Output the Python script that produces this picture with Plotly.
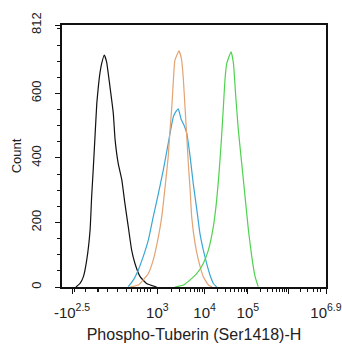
import plotly.graph_objects as go

# Display-channel scale (0..1024) as in flow cytometry software
BLACK_X = [54, 70, 83, 96, 109, 115, 121, 128, 135, 141, 147, 154, 164, 173, 186, 199, 206, 218, 232, 244, 257, 270, 283, 303, 328, 367]
BLACK_Y = [0, 11, 32, 84, 177, 280, 363, 466, 569, 621, 662, 693, 719, 698, 621, 538, 456, 383, 332, 259, 187, 115, 73, 32, 11, 0]

BLUE_X = [257, 277, 296, 315, 335, 354, 374, 393, 412, 432, 443, 451, 462, 473, 484, 497, 509, 523, 535, 548, 561, 574, 587, 600]
BLUE_Y = [1, 22, 53, 94, 146, 218, 290, 363, 445, 528, 545, 552, 520, 502, 476, 404, 321, 239, 166, 115, 73, 37, 11, 0]

ORANGE_X = [264, 296, 315, 335, 354, 374, 387, 400, 412, 419, 426, 432, 438, 454, 464, 471, 477, 484, 490, 497, 503, 516, 529, 548, 568, 582]
ORANGE_Y = [0, 6, 22, 42, 84, 156, 218, 311, 404, 486, 559, 641, 703, 732, 703, 641, 559, 466, 383, 301, 218, 135, 84, 32, 6, 0]

GREEN_X = [438, 471, 497, 523, 548, 568, 587, 600, 610, 619, 626, 632, 639, 656, 665, 674, 684, 697, 710, 723, 736, 749, 761]
GREEN_Y = [0, 6, 22, 42, 73, 115, 187, 270, 363, 466, 559, 641, 693, 729, 693, 590, 487, 383, 280, 177, 94, 32, 1]

X_TICK_CH = [39, 370, 553, 721, 878, 1024]
X_TICK_TEXT = ["-10<sup>2.5</sup>", "10<sup>3</sup>", "10<sup>4</sup>", "10<sup>5</sup>", "", "10<sup>6.9</sup>"]
X_MINOR_CH = [50, 93, 136, 140, 178, 217, 250, 271, 291, 306, 320, 333, 345,
              425, 457, 480, 497, 512, 524, 534, 544,
              604, 634, 655, 671, 685, 696, 706, 715,
              769, 797, 817, 832, 845, 855, 864, 872,
              926, 954, 974, 990, 1002]
Y_TICKS = [0, 200, 400, 600, 812]
Y_MINOR = [50, 100, 150, 250, 300, 350, 450, 500, 550, 650, 700, 750, 800]

series = [
    (BLACK_X, BLACK_Y, "#111111"),
    (BLUE_X, BLUE_Y, "#3aa6d6"),
    (ORANGE_X, ORANGE_Y, "#e3a373"),
    (GREEN_X, GREEN_Y, "#4fd24f"),
]

fig = go.Figure()
for xs, ys, col in series:
    fig.add_trace(go.Scatter(x=xs, y=ys, mode="lines",
                             line=dict(color=col, width=1.2, shape="spline", smoothing=0.4),
                             showlegend=False, hoverinfo="skip"))

font = "Liberation Sans, Arial, sans-serif"
txt = "#222222"
fig.update_layout(
    width=342, height=350,
    margin=dict(l=62, r=16, t=25, b=63, autoexpand=False),
    plot_bgcolor="white", paper_bgcolor="white",
    font=dict(family=font, color=txt),
    xaxis=dict(
        range=[0, 1024], showgrid=False, zeroline=False, automargin=True,
        showline=True, linecolor="#111111", linewidth=1.5, mirror=True,
        tickmode="array", tickvals=X_TICK_CH, ticktext=X_TICK_TEXT,
        ticks="outside", ticklen=5, tickwidth=1, tickcolor="#111111",
        ticklabelstandoff=6,
        tickfont=dict(size=15, family=font, color=txt),
        minor=dict(tickmode="array", tickvals=X_MINOR_CH, ticks="outside",
                   ticklen=3, tickwidth=1, tickcolor="#111111", showgrid=False),
        title=dict(text="Phospho-Tuberin (Ser1418)-H", font=dict(size=16, family=font, color=txt), standoff=9),
    ),
    yaxis=dict(
        range=[0, 812], showgrid=False, zeroline=False, automargin=False,
        showline=True, linecolor="#111111", linewidth=1.5, mirror=True,
        tickmode="array", tickvals=Y_TICKS, ticktext=[str(v) for v in Y_TICKS],
        ticks="outside", ticklen=5, tickwidth=1, tickcolor="#111111",
        tickangle=-90, ticklabelstandoff=9,
        tickfont=dict(size=13, family=font, color=txt),
        minor=dict(tickmode="array", tickvals=Y_MINOR, ticks="outside",
                   ticklen=3, tickwidth=1, tickcolor="#111111", showgrid=False),
        title=dict(text="Count", font=dict(size=13, family=font, color=txt), standoff=4),
    ),
)

fig.write_html("out.html")
